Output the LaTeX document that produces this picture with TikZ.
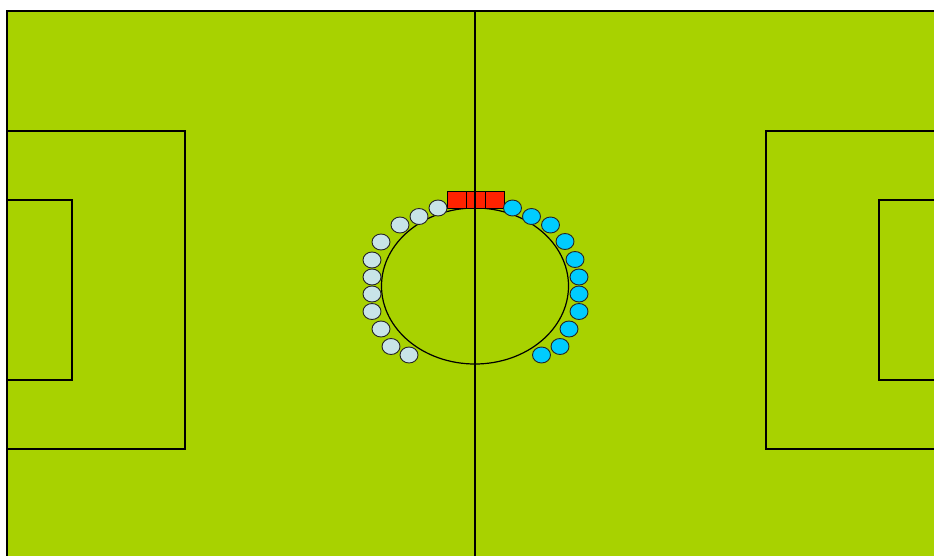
\documentclass[tikz,border=0pt]{standalone}
\usetikzlibrary{shapes.geometric}
\definecolor{pitch}{RGB}{168,210,0}
\definecolor{lightp}{RGB}{200,228,232}
\definecolor{cyanp}{RGB}{0,204,255}
\definecolor{redp}{RGB}{255,34,0}
\tikzset{
  fieldline/.style={draw=black, line width=1.2pt},
  player/.style={ellipse, draw=black!85, line width=0.9pt, minimum width=18pt, minimum height=16pt, inner sep=0pt},
  lp/.style={player, fill=lightp},
  rp/.style={player, fill=cyanp},
  ref/.style={rectangle, draw=black, line width=0.9pt, fill=redp, minimum width=19pt, minimum height=17pt, inner sep=0pt}
}
\begin{document}
\begin{tikzpicture}[x=1pt,y=-1pt]
\useasboundingbox (0,0) rectangle (934,556);
\clip (0,0) rectangle (934,556);
\fill[white] (0,0) rectangle (934,556);
\filldraw[fill=pitch, fieldline] (7,11) rectangle (943,561);
\draw[fieldline] (475,11) -- (475,561);
\draw[fieldline] (475,286) ellipse [x radius=93.5, y radius=78];
\draw[fieldline] (7,131) -- (185,131) -- (185,449) -- (7,449);
\draw[fieldline] (7,200) -- (72,200) -- (72,380) -- (7,380);
\draw[fieldline] (943,131) -- (766,131) -- (766,449) -- (943,449);
\draw[fieldline] (943,200) -- (879,200) -- (879,380) -- (943,380);
% referees
\node[ref] (r1) at (456.5,199.5) {};
\node[ref] (r2) at (475.5,199.5) {};
\node[ref] (r3) at (494.5,199.5) {};
\draw[line width=1.2pt] (475,191) -- (475,208);
% left team
\foreach \i/\x/\y in {1/438/208,2/419/216.5,3/400/225,4/381/242,5/372/260,6/372/277,7/372/294,8/372/311.5,9/381/329,10/391/346.5,11/409/355}
  \node[lp] (l\i) at (\x,\y) {};
% right team
\foreach \i/\x/\y in {1/512.5/208,2/531.5/216.5,3/550.5/225,4/565/241.5,5/575/259.5,6/579/277,7/579/294,8/579/311.5,9/569/329,10/560/346.5,11/541.5/355}
  \node[rp] (r\i) at (\x,\y) {};
\end{tikzpicture}
\end{document}
